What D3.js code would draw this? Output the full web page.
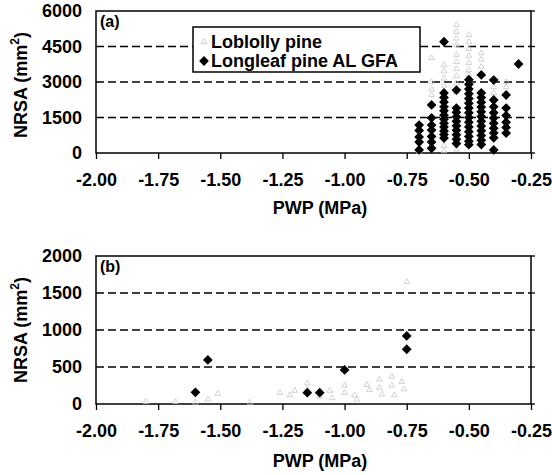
<!DOCTYPE html>
<html>
<head>
<meta charset="utf-8">
<script src="https://cdn.jsdelivr.net/npm/d3@7"></script>
<style>
  body { margin: 0; background: #fff; }
  text { font-family: "Liberation Sans", Arial, sans-serif; font-weight: bold; }
</style>
</head>
<body>
<script>
// shared axis ticks
const pwpTicks = [-2.00, -1.75, -1.50, -1.25, -1.00, -0.75, -0.50, -0.25];
const nrsaTicksA = [0, 1500, 3000, 4500, 6000];
const nrsaTicksB = [0, 500, 1000, 1500, 2000];
const seriesNames = ["Loblolly pine", "Longleaf pine AL GFA"];

// panel (a): [PWP, NRSA]
const longleafA = [
  [-0.70, 1180], [-0.70, 950], [-0.70, 680], [-0.70, 460], [-0.70, 130],
  [-0.65, 2030], [-0.65, 1480], [-0.65, 1180], [-0.65, 970], [-0.65, 700], [-0.65, 460], [-0.65, 200],
  [-0.60, 4700], [-0.60, 2540], [-0.60, 2350], [-0.60, 2150], [-0.60, 1950], [-0.60, 1780], [-0.60, 1600],
  [-0.60, 1430], [-0.60, 1260], [-0.60, 1100], [-0.60, 930], [-0.60, 780], [-0.60, 630],
  [-0.55, 2660], [-0.55, 1900], [-0.55, 1720], [-0.55, 1530], [-0.55, 1340], [-0.55, 1150], [-0.55, 960],
  [-0.55, 770], [-0.55, 580], [-0.55, 400],
  [-0.50, 3100], [-0.50, 2900], [-0.50, 2700], [-0.50, 2500], [-0.50, 2300], [-0.50, 2100], [-0.50, 1900],
  [-0.50, 1700], [-0.50, 1500], [-0.50, 1300], [-0.50, 1100], [-0.50, 900], [-0.50, 700], [-0.50, 500], [-0.50, 350],
  [-0.45, 3300], [-0.45, 2540], [-0.45, 2340], [-0.45, 2140], [-0.45, 1940], [-0.45, 1740], [-0.45, 1540],
  [-0.45, 1340], [-0.45, 1140], [-0.45, 940], [-0.45, 740], [-0.45, 540], [-0.45, 360],
  [-0.40, 3080], [-0.40, 2240], [-0.40, 1950], [-0.40, 1700], [-0.40, 1480], [-0.40, 1260], [-0.40, 1050],
  [-0.40, 850], [-0.40, 640], [-0.40, 130],
  [-0.35, 2450], [-0.35, 1900], [-0.35, 1580], [-0.35, 1300], [-0.35, 1080], [-0.35, 840],
  [-0.30, 3760]
];
const loblollyA = [
  [-0.70, 250], [-0.70, 60], [-0.65, 4010], [-0.65, 3000], [-0.65, 2700], [-0.65, 2450], [-0.65, 600],
  [-0.60, 3720], [-0.60, 3450], [-0.60, 3150], [-0.60, 2850], [-0.60, 2580], [-0.60, 300], [-0.60, 80],
  [-0.55, 5410], [-0.55, 5120], [-0.55, 4840], [-0.55, 4560], [-0.55, 4140], [-0.55, 3850], [-0.55, 3550],
  [-0.55, 3250], [-0.55, 2950], [-0.55, 2580], [-0.55, 150],
  [-0.50, 4990], [-0.50, 4700], [-0.50, 4400], [-0.50, 4100], [-0.50, 3800], [-0.50, 3500], [-0.50, 3300],
  [-0.45, 4220], [-0.45, 3950], [-0.45, 3650], [-0.45, 3300],
  [-0.40, 2790], [-0.40, 2550], [-0.40, 2320],
  [-0.35, 3000], [-0.35, 2790]
];

// panel (b): [PWP, NRSA]
const longleafB = [
  [-1.60, 158], [-1.55, 595], [-1.15, 153], [-1.10, 153], [-1.00, 460], [-0.75, 920], [-0.75, 740]
];
const loblollyB = [
  [-1.80, 30], [-1.68, 30], [-1.60, 20], [-1.55, 60], [-1.51, 140], [-1.38, 20],
  [-1.26, 150], [-1.22, 120], [-1.20, 180], [-1.15, 280], [-1.15, 200], [-1.10, 100],
  [-1.06, 180], [-1.05, 80], [-1.00, 250], [-1.00, 150], [-0.96, 120], [-0.95, 60],
  [-0.91, 260], [-0.90, 190], [-0.86, 330], [-0.86, 220], [-0.85, 130],
  [-0.81, 370], [-0.81, 250], [-0.80, 120], [-0.77, 300], [-0.76, 200], [-0.75, 1650]
];

const svg = d3.select("body").append("svg").attr("width", 552).attr("height", 475);

const diamond = d3.symbol().type(d3.symbolSquare).size(48);
const tri = d3.symbol().type(d3.symbolTriangle).size(14);
const lobColor = "#c6c6c6";

function drawPanel(cfg) {
  const x = d3.scaleLinear().domain([-2, -0.25]).range([96, 531]);
  const y = d3.scaleLinear().domain([0, cfg.ymax]).range([cfg.bottom, cfg.top]);
  const g = svg.append("g");

  // gridlines
  g.selectAll(".grid").data(cfg.yticks.slice(1, -1)).enter().append("line")
    .attr("x1", x(-2)).attr("x2", x(-0.25))
    .attr("y1", d => y(d)).attr("y2", d => y(d))
    .attr("stroke", "#000").attr("stroke-width", 1.6).attr("stroke-dasharray", "8,4");

  // frame
  g.append("rect")
    .attr("x", x(-2)).attr("y", y(cfg.ymax))
    .attr("width", x(-0.25) - x(-2)).attr("height", y(0) - y(cfg.ymax))
    .attr("fill", "none").attr("stroke", "#000").attr("stroke-width", 1.5);

  // right-side ticks
  g.selectAll(".rt").data(cfg.yticks).enter().append("line")
    .attr("x1", x(-0.25)).attr("x2", x(-0.25) + 4)
    .attr("y1", d => y(d)).attr("y2", d => y(d))
    .attr("stroke", "#000").attr("stroke-width", 1.3);

  const xAxis = g.append("g").attr("transform", `translate(0,${cfg.bottom})`)
    .call(d3.axisBottom(x).tickValues(pwpTicks).tickSize(6).tickPadding(14).tickSizeOuter(0)
      .tickFormat(d => d.toFixed(2)));
  xAxis.select(".domain").remove();
  xAxis.selectAll("line").attr("stroke-width", 1.3);
  xAxis.selectAll("text").attr("font-size", 18).attr("fill", "#000")
    .attr("font-family", "Liberation Sans, Arial, sans-serif").attr("font-weight", "bold");

  const yAxis = g.append("g").attr("transform", "translate(96,0)")
    .call(d3.axisLeft(y).tickValues(cfg.yticks).tickSize(0).tickPadding(14).tickFormat(d3.format("d")));
  yAxis.select(".domain").remove();
  yAxis.selectAll("text").attr("font-size", 18).attr("fill", "#000")
    .attr("font-family", "Liberation Sans, Arial, sans-serif").attr("font-weight", "bold");

  // points: loblolly first, longleaf on top
  g.selectAll(".lob").data(cfg.lob).enter().append("path")
    .attr("d", tri)
    .attr("transform", d => `translate(${x(d[0])},${y(d[1])})`)
    .attr("fill", "none").attr("stroke", lobColor).attr("stroke-width", 0.8);
  g.selectAll(".long").data(cfg.long).enter().append("path")
    .attr("d", diamond)
    .attr("transform", d => `translate(${x(d[0])},${y(d[1])}) rotate(45)`)
    .attr("fill", "#000");

  // panel letter
  g.append("text").attr("x", 100).attr("y", cfg.top + 16)
    .attr("font-family", "Liberation Serif, Times New Roman, serif").attr("font-size", 16)
    .text(cfg.letter);

  // axis titles
  g.append("text").attr("x", 320).attr("y", cfg.xTitleY).attr("text-anchor", "middle")
    .attr("font-size", 18).text("PWP (MPa)");
  const yt = g.append("text").attr("text-anchor", "middle").attr("font-size", 18)
    .attr("transform", `translate(27,${cfg.yTitleC}) rotate(-90)`);
  yt.append("tspan").text("NRSA (mm");
  yt.append("tspan").attr("font-size", 12).attr("dy", -8).text("2");
  yt.append("tspan").attr("dy", 8).text(")");

  return { x, y, g };
}

drawPanel({ top: 11, bottom: 153, ymax: 6000, yticks: nrsaTicksA,
  long: longleafA, lob: loblollyA, letter: "(a)", xTitleY: 214, yTitleC: 85 });
drawPanel({ top: 256, bottom: 404, ymax: 2000, yticks: nrsaTicksB,
  long: longleafB, lob: loblollyB, letter: "(b)", xTitleY: 467, yTitleC: 330 });

// legend in panel (a)
const leg = svg.append("g");
leg.append("rect").attr("x", 193).attr("y", 27).attr("width", 227).attr("height", 45)
  .attr("fill", "#fff").attr("stroke", "#000").attr("stroke-width", 1.5);
leg.append("path").attr("d", tri).attr("transform", "translate(204,42)")
  .attr("fill", "none").attr("stroke", lobColor).attr("stroke-width", 0.8);
leg.append("path").attr("d", diamond).attr("transform", "translate(204,61) rotate(45)").attr("fill", "#000");
leg.selectAll(".lt").data(seriesNames).enter().append("text")
  .attr("x", 211).attr("y", (d, i) => 48 + i * 19)
  .attr("font-size", 18).text(d => d);
</script>
</body>
</html>
